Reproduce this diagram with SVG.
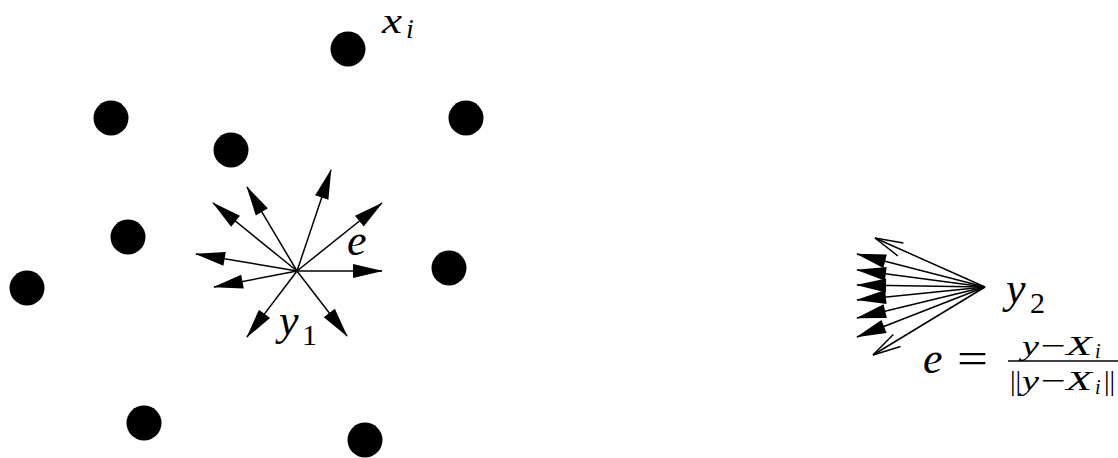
<svg xmlns="http://www.w3.org/2000/svg" width="1118" height="458" viewBox="0 0 1118 458">
<style>
.dot{fill:#000}
.ln{stroke:#000;stroke-width:1.5;fill:none}
.f{marker-end:url(#ah)}
.o{marker-end:url(#ao)}
.tx{font-family:'Liberation Serif',serif;fill:#000}
.it{font-style:italic}
.up{font-style:normal}
</style>
<defs>
<marker id="ah" markerUnits="userSpaceOnUse" markerWidth="40" markerHeight="20" viewBox="-32 -10 40 20" refX="0" refY="0" orient="auto" overflow="visible">
<path d="M1,0 L-29,-7 L-29,7 Z" fill="#000"/>
</marker>
<marker id="ao" markerUnits="userSpaceOnUse" markerWidth="40" markerHeight="20" viewBox="-32 -10 40 20" refX="0" refY="0" orient="auto" overflow="visible">
<path d="M-28,-7 L0,0 L-28,7" fill="none" stroke="#000" stroke-width="1.5"/>
</marker>
</defs>
<rect width="1118" height="458" fill="#fff"/>
<g id="p1"><circle class="dot" cx="348" cy="49" r="17.5"/></g>
<g id="p2"><circle class="dot" cx="111" cy="118" r="17.5"/></g>
<g id="p3"><circle class="dot" cx="466" cy="118" r="17.5"/></g>
<g id="p4"><circle class="dot" cx="231" cy="150" r="17.5"/></g>
<g id="p5"><circle class="dot" cx="128" cy="237" r="17.5"/></g>
<g id="p6"><circle class="dot" cx="27" cy="288" r="17.5"/></g>
<g id="p7"><circle class="dot" cx="449" cy="268" r="17.5"/></g>
<g id="p8"><circle class="dot" cx="144" cy="423" r="17.5"/></g>
<g id="p9"><circle class="dot" cx="365" cy="440" r="17.5"/></g>
<g id="connectors">
<line class="ln f" x1="297" y1="271" x2="331" y2="170"/>
<line class="ln f" x1="297" y1="271" x2="247" y2="187"/>
<line class="ln f" x1="297" y1="271" x2="213" y2="203"/>
<line class="ln f" x1="297" y1="271" x2="382" y2="203"/>
<line class="ln f" x1="297" y1="271" x2="196" y2="254"/>
<line class="ln f" x1="297" y1="271" x2="214" y2="287"/>
<line class="ln f" x1="297" y1="271" x2="382" y2="271"/>
<line class="ln f" x1="297" y1="271" x2="247" y2="337"/>
<line class="ln f" x1="297" y1="271" x2="347" y2="336"/>
<line class="ln f" x1="985" y1="287" x2="857" y2="254"/>
<line class="ln f" x1="985" y1="287" x2="857" y2="270"/>
<line class="ln f" x1="985" y1="287" x2="857" y2="285"/>
<line class="ln f" x1="985" y1="287" x2="857" y2="300"/>
<line class="ln f" x1="985" y1="287" x2="857" y2="318"/>
<line class="ln f" x1="985" y1="287" x2="857" y2="337"/>
<line class="ln o" x1="985" y1="287" x2="875" y2="238"/>
<line class="ln o" x1="985" y1="287" x2="873" y2="355"/>
</g>
<g id="labels" font-family="Liberation Serif, serif" fill="#000">
<text class="tx it" x="382" y="33" font-size="36" textLength="20" lengthAdjust="spacingAndGlyphs">x</text>
<text class="tx it" x="406" y="38" font-size="28">i</text>
<text class="tx it" x="347" y="255" font-size="44">e</text>
<text class="tx it" x="279" y="335" font-size="44">y</text>
<text class="tx up" x="302" y="345" font-size="30">1</text>
<text class="tx it" x="1006" y="303" font-size="44">y</text>
<text class="tx up" x="1030" y="313" font-size="30">2</text>
<text class="tx it" x="923" y="373" font-size="44">e</text>
<text class="tx up" x="957" y="373" font-size="44" textLength="31" lengthAdjust="spacingAndGlyphs">=</text>
<line x1="1008" y1="361" x2="1118" y2="361" stroke="#000" stroke-width="1.3"/>
<text class="tx it" x="1022" y="355" font-size="28" textLength="17" lengthAdjust="spacingAndGlyphs">y</text>
<text class="tx up" x="1041" y="355" font-size="28" textLength="25" lengthAdjust="spacingAndGlyphs">−</text>
<text class="tx it" x="1066" y="355" font-size="28" textLength="26" lengthAdjust="spacingAndGlyphs">X</text>
<text class="tx it" x="1095" y="358" font-size="20">i</text>
<text class="tx up" x="1010" y="390" font-size="28">||</text>
<text class="tx it" x="1022" y="390" font-size="28" textLength="17" lengthAdjust="spacingAndGlyphs">y</text>
<text class="tx up" x="1041" y="390" font-size="28" textLength="25" lengthAdjust="spacingAndGlyphs">−</text>
<text class="tx it" x="1066" y="390" font-size="28" textLength="26" lengthAdjust="spacingAndGlyphs">X</text>
<text class="tx it" x="1095" y="394" font-size="20">i</text>
<text class="tx up" x="1104" y="390" font-size="28">||</text>
</g>
</svg>
